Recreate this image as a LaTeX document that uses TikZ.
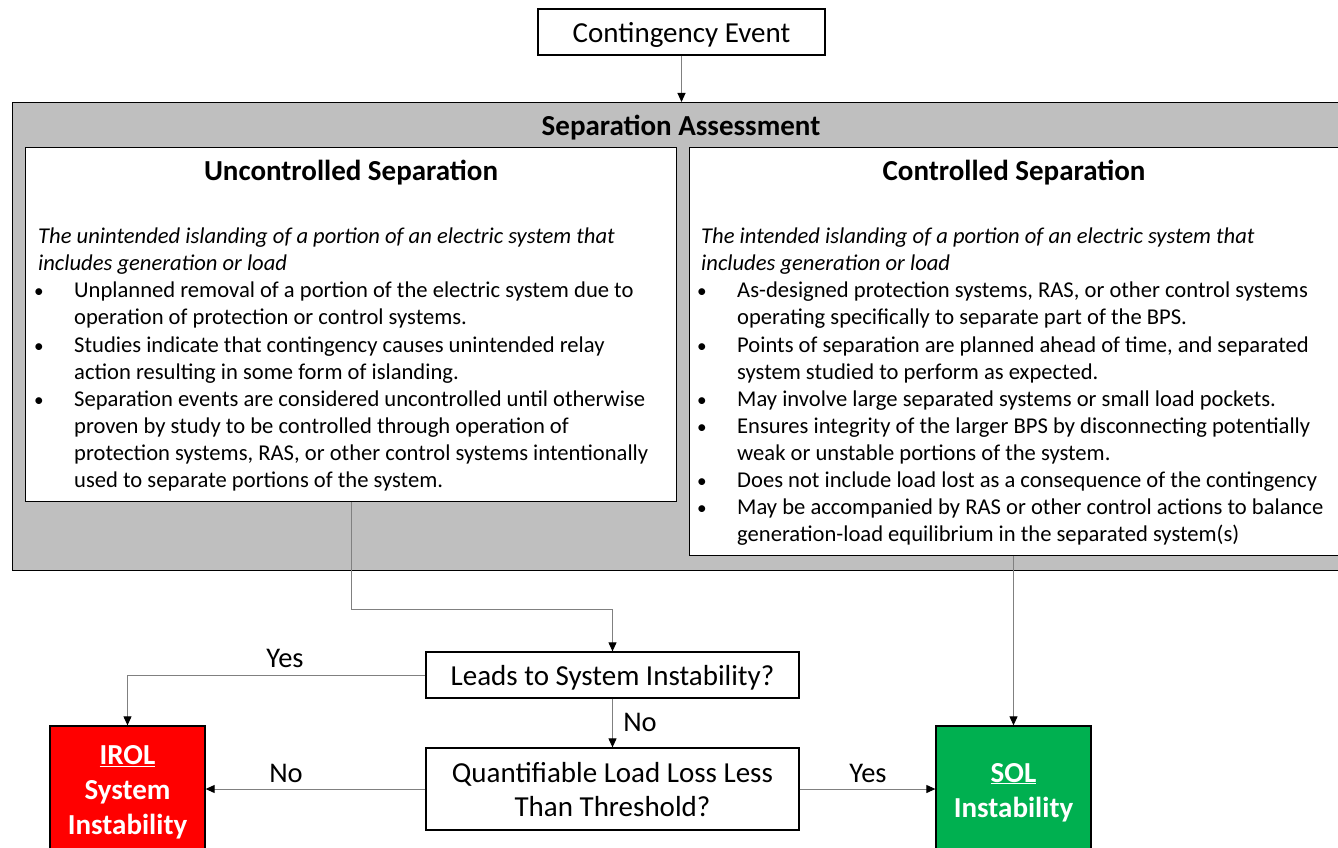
\documentclass[tikz,border=0pt]{standalone}
\usepackage{fontspec}
\usepackage{graphicx}
\setmainfont{Carlito}
\usetikzlibrary{arrows.meta}
\definecolor{grayfill}{HTML}{BFBFBF}
\definecolor{lineg}{HTML}{808080}
\definecolor{irolred}{HTML}{FF0000}
\definecolor{solgreen}{HTML}{00B050}
\newcommand\mybul{\makebox[36pt][l]{\hspace{-4pt}\scalebox{0.85}{\textbullet}}}
\newcommand\myind{\hspace*{36pt}}
\begin{document}
\begin{tikzpicture}[x=1pt,y=-1pt,
  box/.style={draw=black, line width=1.3pt, fill=white, inner sep=0pt},
  conn/.style={draw=lineg, line width=1pt, -{Triangle[length=9pt,width=8pt,color=black]}},
  big/.style={font=\fontsize{29}{34}\selectfont, align=center, text depth=0pt},
  title/.style={font=\bfseries\fontsize{29}{32}\selectfont, inner sep=0pt},
  body/.style={font=\fontsize{22.6}{27.1}\selectfont, align=left, inner sep=0pt},
  lbl/.style={font=\fontsize{28.5}{32}\selectfont, inner sep=0pt},
  res/.style={draw=black, line width=1.3pt, inner sep=0pt, minimum width=155pt, minimum height=128pt,
    text=white, align=center, text depth=0pt, font=\bfseries\fontsize{29}{35}\selectfont},
]
\useasboundingbox (0,0) rectangle (1338,848);

\node[box, big, minimum width=287pt, minimum height=46pt] (ce) at (681.5,32) {Contingency Event};

\node[box, fill=grayfill, anchor=north west, minimum width=1340pt, minimum height=468pt] (sa) at (12,102) {};
\node[title] (sat) at (681,128) {Separation Assessment};

\node[box, anchor=north west, minimum width=651pt, minimum height=354pt] (unc) at (25,147) {};
\node[box, anchor=north west, minimum width=652pt, minimum height=408pt] (con) at (689,147) {};
\node[title] (unct) at (351,173) {Uncontrolled Separation};
\node[title] (cont) at (1014,173) {Controlled Separation};

\node[body, anchor=base west] (unctx) at (38,487.5) {\textit{The unintended islanding of a portion of an electric system that}\\
\textit{includes generation or load}\\
\mybul Unplanned removal of a portion of the electric system due to\\
\myind operation of protection or control systems.\\
\mybul Studies indicate that contingency causes unintended relay\\
\myind action resulting in some form of islanding.\\
\mybul Separation events are considered uncontrolled until otherwise\\
\myind proven by study to be controlled through operation of\\
\myind protection systems, RAS, or other control systems intentionally\\
\myind used to separate portions of the system.};

\node[body, anchor=base west] (contx) at (701,541.7) {\textit{The intended islanding of a portion of an electric system that}\\
\textit{includes generation or load}\\
\mybul As-designed protection systems, RAS, or other control systems\\
\myind operating specifically to separate part of the BPS.\\
\mybul Points of separation are planned ahead of time, and separated\\
\myind system studied to perform as expected.\\
\mybul May involve large separated systems or small load pockets.\\
\mybul Ensures integrity of the larger BPS by disconnecting potentially\\
\myind weak or unstable portions of the system.\\
\mybul Does not include load lost as a consequence of the contingency\\
\mybul May be accompanied by RAS or other control actions to balance\\
\myind generation-load equilibrium in the separated system(s)};

\node[box, big, minimum width=373pt, minimum height=46pt] (leads) at (612.5,675) {Leads to System Instability?};
\node[box, big, minimum width=373pt, minimum height=82pt] (quant) at (612.5,789) {Quantifiable Load Loss Less\\Than Threshold?};
\node[res, fill=irolred] (irol) at (127.5,790) {\underline{IROL}\\System\\Instability};
\node[res, fill=solgreen] (sol) at (1013.5,790) {\underline{SOL}\\Instability};

\draw[conn] (ce.south) -- (ce.south |- sa.north);
\draw[conn] (unc.south) -- ++(0,107) -| (leads.north);
\draw[conn] (con.south -| sol.north) -- (sol.north);
\draw[conn] (leads.west) -| (irol.north);
\draw[conn] (leads.south) -- (quant.north);
\draw[conn] (quant.west) -- (irol.east |- quant.west);
\draw[conn] (quant.east) -- (sol.west |- quant.east);

\node[lbl] (yes1) at (285,658) {Yes};
\node[lbl] (no1) at (640,722) {No};
\node[lbl] (no2) at (286,773) {No};
\node[lbl] (yes2) at (868,773) {Yes};
\end{tikzpicture}
\end{document}
